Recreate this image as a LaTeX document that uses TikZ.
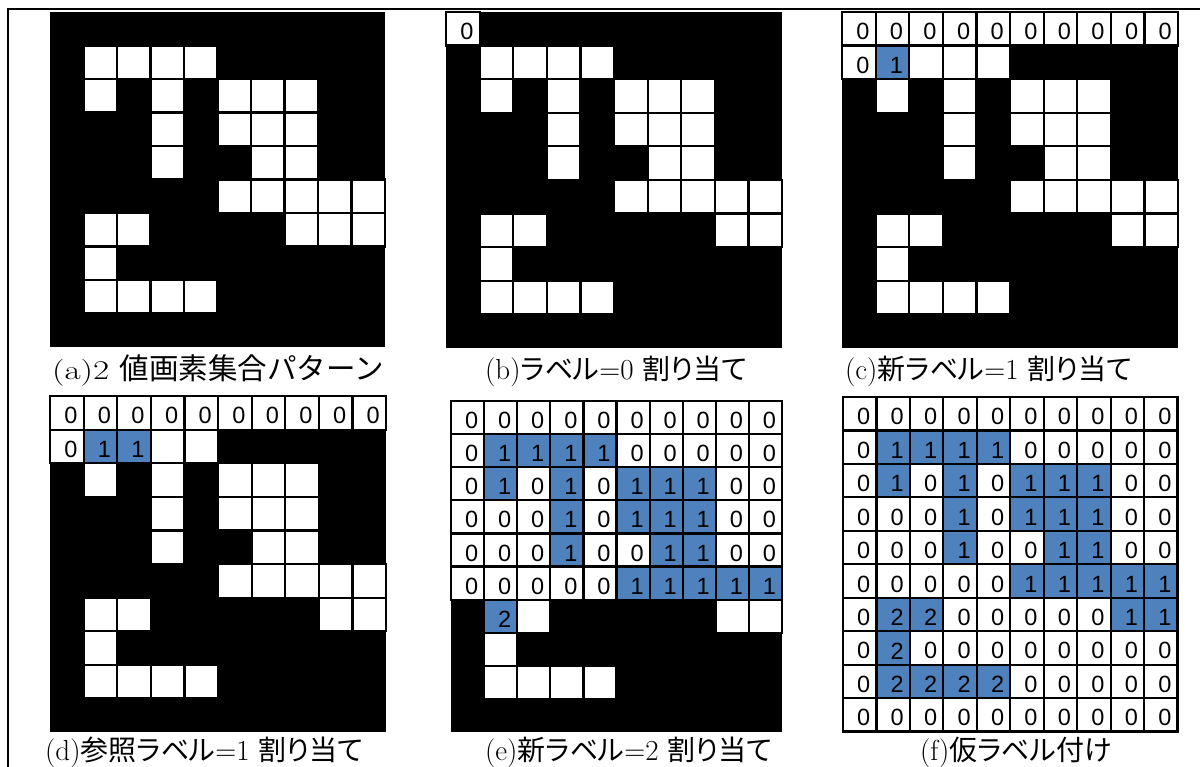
\documentclass[tikz,border=0pt]{standalone}
\usepackage{fontspec}
\newfontfamily\jp[RawFeature=+palt]{Noto Sans CJK JP}
\newfontfamily\jpm{Noto Sans CJK JP}
\newfontfamily\latinw[FakeStretch=1.3]{Latin Modern Roman}
\newfontfamily\digitfont{Liberation Sans}
\definecolor{cblue}{RGB}{79,129,189}
\tikzset{
 cellk/.style={},
 cellw/.style={fill=white,draw=black,line width=2.2pt},
 cell0/.style={cellw},
 cell1/.style={fill=cblue,draw=black,line width=2.2pt},
 cell2/.style={cell1},
 digit/.style={font=\digitfont\fontsize{23.5}{23.5}\selectfont, inner sep=0pt},
 caption/.style={anchor=base west, inner sep=0pt, font=\fontsize{29}{29}\selectfont},
 captionw/.style={caption, font=\latinw\fontsize{27}{27}\selectfont},
 frameline/.style={line width=1.8pt},
}
\newcommand\J[1]{{\jp\fontsize{28}{28}\selectfont #1}}
\newcommand\JM[1]{{\jpm\fontsize{29.5}{29.5}\selectfont #1}}
\expandafter\def\csname celltxtk\endcsname{}
\expandafter\def\csname celltxtw\endcsname{}
\expandafter\def\csname celltxt0\endcsname{0}
\expandafter\def\csname celltxt1\endcsname{1}
\expandafter\def\csname celltxt2\endcsname{2}
\newcommand\drawgrid[4]{%
 \begin{scope}[shift={(#1,#2)}]
  \fill[black] (0,0) rectangle (10*#3,10*#3);
  \foreach \rowdata [count=\r from 0] in {#4} {
    \foreach \v [count=\c from 0] in \rowdata {
      \path[cell\v] (\c*#3,\r*#3) rectangle ++(#3,#3);
      \node[digit] at (\c*#3+#3/2+4,\r*#3+#3/2+3) {\csname celltxt\v\endcsname};
    }
  }
 \end{scope}}
\begin{document}
\begin{tikzpicture}[x=1pt,y=-1pt]
\useasboundingbox (0,0) rectangle (1200,767);
\fill[white] (0,0) rectangle (1200,767);
\coordinate (ftr) at (1200,9);
\coordinate (ftl) at (8,9);
\coordinate (fbl) at (8,767);
\draw[frameline] (ftr) -- (ftl) -- (fbl);
% (a)
\drawgrid{50}{12}{33.5}{
{k,k,k,k,k,k,k,k,k,k},
{k,w,w,w,w,k,k,k,k,k},
{k,w,k,w,k,w,w,w,k,k},
{k,k,k,w,k,w,w,w,k,k},
{k,k,k,w,k,k,w,w,k,k},
{k,k,k,k,k,w,w,w,w,w},
{k,w,w,k,k,k,k,w,w,w},
{k,w,k,k,k,k,k,k,k,k},
{k,w,w,w,w,k,k,k,k,k},
{k,k,k,k,k,k,k,k,k,k}}
% (b)
\drawgrid{446}{12}{33.6}{
{0,k,k,k,k,k,k,k,k,k},
{k,w,w,w,w,k,k,k,k,k},
{k,w,k,w,k,w,w,w,k,k},
{k,k,k,w,k,w,w,w,k,k},
{k,k,k,w,k,k,w,w,k,k},
{k,k,k,k,k,w,w,w,w,w},
{k,w,w,k,k,k,k,k,w,w},
{k,w,k,k,k,k,k,k,k,k},
{k,w,w,w,w,k,k,k,k,k},
{k,k,k,k,k,k,k,k,k,k}}
% (c)
\drawgrid{842}{12}{33.6}{
{0,0,0,0,0,0,0,0,0,0},
{0,1,w,w,w,k,k,k,k,k},
{k,w,k,w,k,w,w,w,k,k},
{k,k,k,w,k,w,w,w,k,k},
{k,k,k,w,k,k,w,w,k,k},
{k,k,k,k,k,w,w,w,w,w},
{k,w,w,k,k,k,k,k,w,w},
{k,w,k,k,k,k,k,k,k,k},
{k,w,w,w,w,k,k,k,k,k},
{k,k,k,k,k,k,k,k,k,k}}
% (d)
\drawgrid{50}{396}{33.6}{
{0,0,0,0,0,0,0,0,0,0},
{0,1,1,w,w,k,k,k,k,k},
{k,w,k,w,k,w,w,w,k,k},
{k,k,k,w,k,w,w,w,k,k},
{k,k,k,w,k,k,w,w,k,k},
{k,k,k,k,k,w,w,w,w,w},
{k,w,w,k,k,k,k,k,w,w},
{k,w,k,k,k,k,k,k,k,k},
{k,w,w,w,w,k,k,k,k,k},
{k,k,k,k,k,k,k,k,k,k}}
% (e)
\drawgrid{451}{401}{33.1}{
{0,0,0,0,0,0,0,0,0,0},
{0,1,1,1,1,0,0,0,0,0},
{0,1,0,1,0,1,1,1,0,0},
{0,0,0,1,0,1,1,1,0,0},
{0,0,0,1,0,0,1,1,0,0},
{0,0,0,0,0,1,1,1,1,1},
{k,2,w,k,k,k,k,k,w,w},
{k,w,k,k,k,k,k,k,k,k},
{k,w,w,w,w,k,k,k,k,k},
{k,k,k,k,k,k,k,k,k,k}}
% (f)
\drawgrid{843}{397}{33.45}{
{0,0,0,0,0,0,0,0,0,0},
{0,1,1,1,1,0,0,0,0,0},
{0,1,0,1,0,1,1,1,0,0},
{0,0,0,1,0,1,1,1,0,0},
{0,0,0,1,0,0,1,1,0,0},
{0,0,0,0,0,1,1,1,1,1},
{0,2,2,0,0,0,0,0,1,1},
{0,2,0,0,0,0,0,0,0,0},
{0,2,2,2,2,0,0,0,0,0},
{0,0,0,0,0,0,0,0,0,0}}
% captions
\node[captionw] (capa) at (52,380) {(a)2 \JM{値画素集合パターン}};
\node[caption] (capb) at (485,380) {(b)\J{ラベル}=0 \J{割り当て}};
\node[caption] (capc) at (845,380) {(c)\J{新ラベル}=1 \J{割り当て}};
\node[caption] (capd) at (45,760) {(d)\J{参照ラベル}=1 \J{割り当て}};
\node[caption] (cape) at (485,760) {(e)\J{新ラベル}=2 \J{割り当て}};
\node[caption] (capf) at (920,760) {(f)\J{仮ラベル付け}};
\end{tikzpicture}
\end{document}
